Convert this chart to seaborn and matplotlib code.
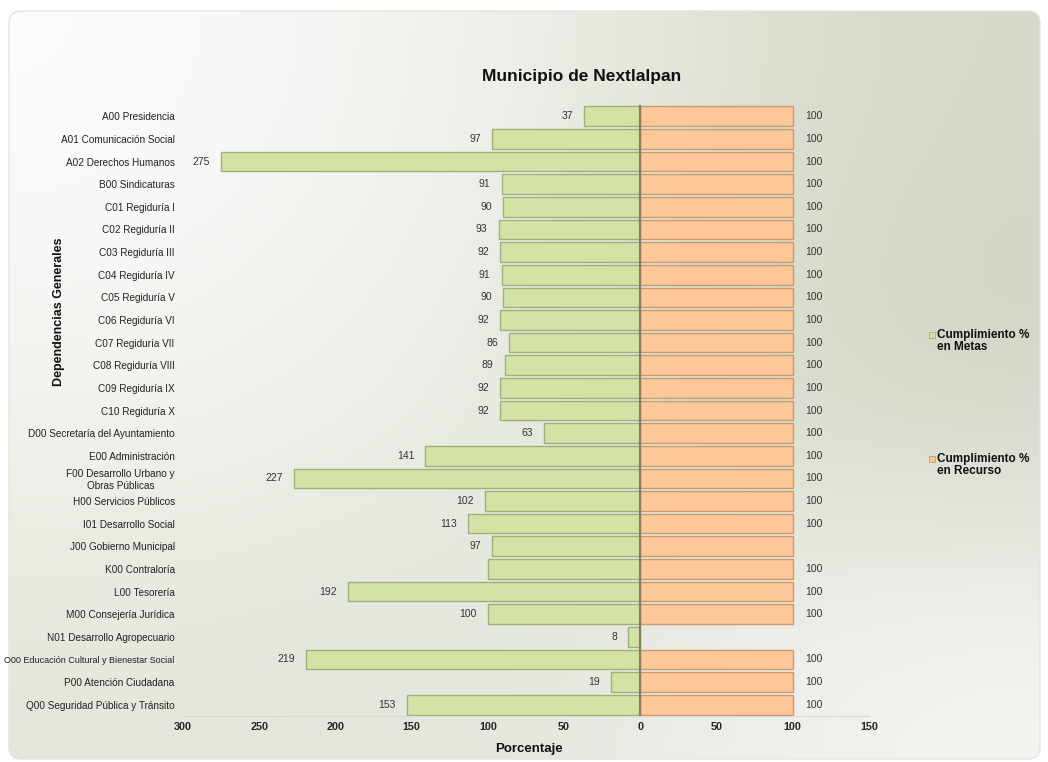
import numpy as np
import matplotlib
matplotlib.use("Agg")
import matplotlib.pyplot as plt
import seaborn as sns
from matplotlib.patches import FancyBboxPatch, Rectangle

dependencias = [
    "A00 Presidencia", "A01 Comunicación Social", "A02 Derechos Humanos",
    "B00 Sindicaturas", "C01 Regiduría I", "C02 Regiduría II", "C03 Regiduría III",
    "C04 Regiduría IV", "C05 Regiduría V", "C06 Regiduría VI", "C07 Regiduría VII",
    "C08 Regiduría VIII", "C09 Regiduría IX", "C10 Regiduría X",
    "D00 Secretaría del Ayuntamiento", "E00 Administración",
    "F00 Desarrollo Urbano y\nObras Públicas", "H00 Servicios Públicos",
    "I01 Desarrollo Social", "J00 Gobierno Municipal", "K00 Contraloría",
    "L00 Tesorería", "M00 Consejería Jurídica", "N01 Desarrollo Agropecuario",
    "O00 Educación Cultural y Bienestar Social", "P00 Atención Ciudadana",
    "Q00 Seguridad Pública y Tránsito",
]
metas = [37, 97, 275, 91, 90, 93, 92, 91, 90, 92, 86, 89, 92, 92, 63, 141, 227,
         102, 113, 97, 100, 192, 100, 8, 219, 19, 153]
recurso = [100, 100, 100, 100, 100, 100, 100, 100, 100, 100, 100, 100, 100, 100,
           100, 100, 100, 100, 100, 100, 100, 100, 100, 0, 100, 100, 100]
# labels that are not shown in the original chart
metas_sin_etiqueta = ["K00 Contraloría"]
recurso_sin_etiqueta = ["J00 Gobierno Municipal", "N01 Desarrollo Agropecuario"]
xticks = [-300, -250, -200, -150, -100, -50, 0, 50, 100, 150]

GREEN = "#d3e3a4"
GREEN_EDGE = "#9fb07a"
ORANGE = "#fdc799"
ORANGE_EDGE = "#c99a6e"

sns.set_theme(style="white")
plt.rcParams["font.family"] = ["Liberation Sans", "DejaVu Sans"]

W, H = 1048, 762
fig = plt.figure(figsize=(W / 100, H / 100), dpi=100)
fig.patch.set_facecolor("white")

# background panel with soft gradient
bg = fig.add_axes([0, 0, 1, 1], zorder=-5)
bg.set_xlim(0, W)
bg.set_ylim(H, 0)
bg.axis("off")
grad = np.array([
    [[252, 252, 252], [238, 240, 234], [212, 217, 200]],
    [[244, 245, 241], [232, 235, 226], [206, 211, 194]],
    [[228, 231, 220], [226, 229, 219], [246, 246, 244]],
]) / 255.0
frame = FancyBboxPatch((9, 11), W - 17, H - 14, boxstyle="round,pad=0,rounding_size=12",
                       facecolor="none", edgecolor="#e4e4e0", lw=1.0)
bg.add_patch(frame)
im = bg.imshow(grad, extent=(9, W - 8, H - 3, 11), interpolation="bicubic", aspect="auto")
im.set_clip_path(frame)

ax = fig.add_axes([183 / W, 1 - 716 / H, (869 - 183) / W, (716 - 105) / H])
ax.patch.set_alpha(0)

neg_metas = [-v for v in metas]
sns.barplot(x=neg_metas, y=dependencias, orient="h", color=GREEN, width=0.87,
            edgecolor=GREEN_EDGE, linewidth=1.0, saturation=1, ax=ax)
sns.barplot(x=recurso, y=dependencias, orient="h", color=ORANGE, width=0.87,
            edgecolor=ORANGE_EDGE, linewidth=1.0, saturation=1, ax=ax)
for b, v in zip(ax.patches[len(metas):], recurso):
    if v == 0:
        b.set_visible(False)

ax.axvline(0, color="#8c7b5c", lw=1.6, zorder=5)
ax.set_xlim(-300, 150)
ax.set_ylim(len(dependencias) - 0.5, -0.5)
ax.set_xticks(xticks)
ax.set_xticklabels([str(abs(t)) for t in xticks], fontsize=7.8, fontweight="bold")
ax.tick_params(axis="x", length=0, pad=4)
ax.tick_params(axis="y", length=0, pad=6, labelsize=7.2, colors="#222222")
for lab in ax.get_yticklabels():
    lab.set_horizontalalignment("right")
    lab.set_multialignment("center")
    if lab.get_text().startswith("O00"):
        lab.set_fontsize(6.5)
for s in ["top", "right", "left"]:
    ax.spines[s].set_visible(False)
ax.spines["bottom"].set_color("#d8d8d4")
ax.spines["bottom"].set_linewidth(0.8)
ax.set_xlabel("")
ax.set_ylabel("")

for i, (dep, m, r) in enumerate(zip(dependencias, metas, recurso)):
    if dep not in metas_sin_etiqueta:
        ax.annotate(str(m), (-m, i), xytext=(-8, 0), textcoords="offset points",
                    ha="right", va="center", fontsize=7.5, color="#333333")
    if r and dep not in recurso_sin_etiqueta:
        ax.annotate(str(r), (r, i), xytext=(9, 0), textcoords="offset points",
                    ha="left", va="center", fontsize=7.5, color="#333333")

fig.text(582 / W, 1 - 77 / H, "Municipio de Nextlalpan", ha="center", va="center",
         fontsize=12.5, fontweight="bold", color="#111111")
fig.text(529 / W, 1 - 749 / H, "Porcentaje", ha="center", va="center",
         fontsize=9.5, fontweight="bold", color="#111111")
fig.text(59 / W, 1 - 312 / H, "Dependencias Generales", ha="center", va="center",
         rotation=90, fontsize=9, fontweight="bold", color="#111111")

# legend
for ypix, col, edge, txt in [(335, GREEN, GREEN_EDGE, "Cumplimiento %\nen Metas"),
                             (459, ORANGE, ORANGE_EDGE, "Cumplimiento %\nen Recurso")]:
    fig.patches.append(Rectangle((929 / W, 1 - (ypix + 3) / H), 6 / W, 6 / H,
                                 transform=fig.transFigure, facecolor=col,
                                 edgecolor=edge, lw=0.6))
    fig.text(937 / W, 1 - (ypix - 6) / H, txt, ha="left", va="top",
             fontsize=8.5, fontweight="bold", color="#111111", linespacing=1.0)

fig.savefig("out.png", dpi=100)
